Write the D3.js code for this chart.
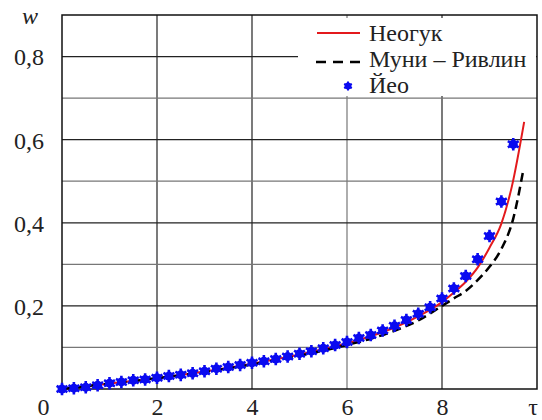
<!DOCTYPE html>
<html>
<head>
<meta charset="utf-8">
<script src="https://cdn.jsdelivr.net/npm/d3@7"></script>
<style>
  body { margin: 0; background: #fff; }
</style>
</head>
<body>
<script>
// Yeo points (tau step 0.25)
var yeoTau = [0, 0.25, 0.5, 0.75, 1, 1.25, 1.5, 1.75, 2, 2.25, 2.5, 2.75, 3, 3.25, 3.5, 3.75,
  4, 4.25, 4.5, 4.75, 5, 5.25, 5.5, 5.75, 6, 6.25, 6.5, 6.75, 7, 7.25, 7.5, 7.75,
  8, 8.25, 8.5, 8.75, 9, 9.25, 9.5];
var yeoW = [0, 0.002, 0.004, 0.009, 0.014, 0.017, 0.021, 0.023, 0.027, 0.031, 0.034, 0.038,
  0.043, 0.049, 0.053, 0.058, 0.063, 0.067, 0.072, 0.078, 0.085, 0.091, 0.098, 0.106,
  0.113, 0.123, 0.130, 0.141, 0.152, 0.166, 0.181, 0.197, 0.218, 0.242, 0.272, 0.312,
  0.368, 0.451, 0.589];

// Neo-Hookean curve
var neoTau = [0, 1, 2, 3, 4, 5, 6, 6.5, 7, 7.5, 8, 8.25, 8.5, 8.75, 9, 9.25, 9.47, 9.73];
var neoW = [0, 0.013, 0.026, 0.042, 0.061, 0.083, 0.110, 0.127, 0.148, 0.175, 0.209, 0.232,
  0.258, 0.292, 0.340, 0.398, 0.487, 0.643];

// Mooney-Rivlin curve
var mrTau = [0, 1, 2, 3, 4, 5, 6, 6.5, 7, 7.5, 8, 8.25, 8.5, 8.75, 9, 9.25, 9.5, 9.7];
var mrW = [0, 0.013, 0.026, 0.041, 0.059, 0.080, 0.106, 0.121, 0.140, 0.165, 0.200, 0.218,
  0.236, 0.262, 0.294, 0.337, 0.41, 0.52];

var xTicks = [0, 2, 4, 6, 8];
var xTickLabels = ["0", "2", "4", "6", "8"];
var yTicks = [0.2, 0.4, 0.6, 0.8];
var yTickLabels = ["0,2", "0,4", "0,6", "0,8"];
var legendLabels = ["Неогук", "Муни – Ривлин", "Йео"];

var W = 542, H = 420;
var margin = {top: 15, right: 5, bottom: 31, left: 62};
var serif = "Liberation Serif";

var svg = d3.select("body").append("svg")
    .attr("width", W)
    .attr("height", H);

var x = d3.scaleLinear().domain([0, 10]).range([margin.left, W - margin.right]);
var y = d3.scaleLinear().domain([0, 0.9]).range([H - margin.bottom, margin.top]);

// grid lines
var g = svg.append("g");
g.selectAll("line.vgrid")
  .data([2, 4, 6, 8])
  .enter().append("line")
    .attr("x1", function(d) { return x(d); })
    .attr("x2", function(d) { return x(d); })
    .attr("y1", y(0)).attr("y2", y(0.9))
    .attr("stroke", function(d) { return d == 6 ? "#777" : "#222"; })
    .attr("stroke-width", 1.2);

g.selectAll("line.hgrid")
  .data(d3.range(1, 9).map(function(i) { return i / 10; }))
  .enter().append("line")
    .attr("x1", x(0)).attr("x2", x(10))
    .attr("y1", function(d) { return y(d); })
    .attr("y2", function(d) { return y(d); })
    .attr("stroke", function(d, i) { return i % 2 == 1 ? "#222" : "#777"; })
    .attr("stroke-width", 1.2);

// legend background covers grid
svg.append("rect")
  .attr("x", 298).attr("y", 18)
  .attr("width", x(10) - 299).attr("height", 78)
  .attr("fill", "#fff");

// frame
svg.append("rect")
  .attr("x", x(0)).attr("y", y(0.9))
  .attr("width", x(10) - x(0)).attr("height", y(0) - y(0.9))
  .attr("fill", "none")
  .attr("stroke", "#111")
  .attr("stroke-width", 1.5);

// axes
var xAxis = d3.axisBottom(x).tickValues(xTicks).tickSize(0)
  .tickFormat(function(d, i) { return xTickLabels[i]; });
var xg = svg.append("g")
  .attr("transform", "translate(0," + y(0) + ")")
  .call(xAxis);
xg.select(".domain").remove();
xg.selectAll("text")
  .style("font-family", serif)
  .attr("font-size", 24)
  .attr("fill", "#222")
  .attr("y", 26)
  .attr("dy", 0)
  .attr("dx", function(d) { return d == 0 ? -19 : 0; });

var yAxis = d3.axisLeft(y).tickValues(yTicks).tickSize(0)
  .tickFormat(function(d, i) { return yTickLabels[i]; });
var yg = svg.append("g")
  .attr("transform", "translate(" + x(0) + ",0)")
  .call(yAxis);
yg.select(".domain").remove();
yg.selectAll("text")
  .style("font-family", serif)
  .attr("font-size", 24)
  .attr("fill", "#222")
  .attr("x", -18)
  .attr("dy", "0.35em");

svg.append("text")
  .attr("x", 30).attr("y", 24)
  .attr("text-anchor", "middle")
  .style("font-family", serif)
  .attr("font-size", 24)
  .attr("font-style", "italic")
  .attr("fill", "#222")
  .text("w");

svg.append("text")
  .attr("x", 533).attr("y", y(0) + 26)
  .attr("text-anchor", "middle")
  .style("font-family", serif)
  .attr("font-size", 24)
  .attr("fill", "#222")
  .text("τ");

// curves
var line = d3.line()
  .x(function(d) { return x(d[0]); })
  .y(function(d) { return y(d[1]); })
  .curve(d3.curveMonotoneX);

svg.append("path")
  .datum(d3.zip(neoTau, neoW))
  .attr("d", line)
  .attr("fill", "none")
  .attr("stroke", "#e3191c")
  .attr("stroke-width", 2);

svg.append("path")
  .datum(d3.zip(mrTau, mrW))
  .attr("d", line)
  .attr("fill", "none")
  .attr("stroke", "#000")
  .attr("stroke-width", 2.5)
  .attr("stroke-dasharray", "9,5");

// Yeo markers
var star = d3.symbol().type(d3.symbolAsterisk).size(110);
var pts = svg.append("g").selectAll("g")
  .data(d3.zip(yeoTau, yeoW))
  .enter().append("g")
    .attr("transform", function(d) { return "translate(" + x(d[0]) + "," + y(d[1]) + ")"; });
pts.append("circle").attr("r", 4.5).attr("fill", "#0a0af0");
pts.append("path").attr("d", star).attr("stroke", "#0a0af0").attr("stroke-width", 2.6).attr("fill", "none");

// legend
var lg = svg.append("g");
lg.append("line")
  .attr("x1", 317).attr("x2", 360).attr("y1", 33).attr("y2", 33)
  .attr("stroke", "#e3191c").attr("stroke-width", 2);
lg.append("line")
  .attr("x1", 316).attr("x2", 361).attr("y1", 62).attr("y2", 62)
  .attr("stroke", "#000").attr("stroke-width", 2.5)
  .attr("stroke-dasharray", "10,7");
var lp = lg.append("g").attr("transform", "translate(348,86)");
lp.append("circle").attr("r", 3.5).attr("fill", "#0a0af0");
lp.append("path").attr("d", d3.symbol().type(d3.symbolAsterisk).size(55))
  .attr("stroke", "#0a0af0").attr("stroke-width", 2).attr("fill", "none");

lg.selectAll("text")
  .data(legendLabels)
  .enter().append("text")
    .attr("x", 369)
    .attr("y", function(d, i) { return 41 + i * 26; })
    .style("font-family", serif)
    .attr("font-size", 24)
    .attr("fill", "#222")
    .text(function(d) { return d; });
</script>
</body>
</html>
